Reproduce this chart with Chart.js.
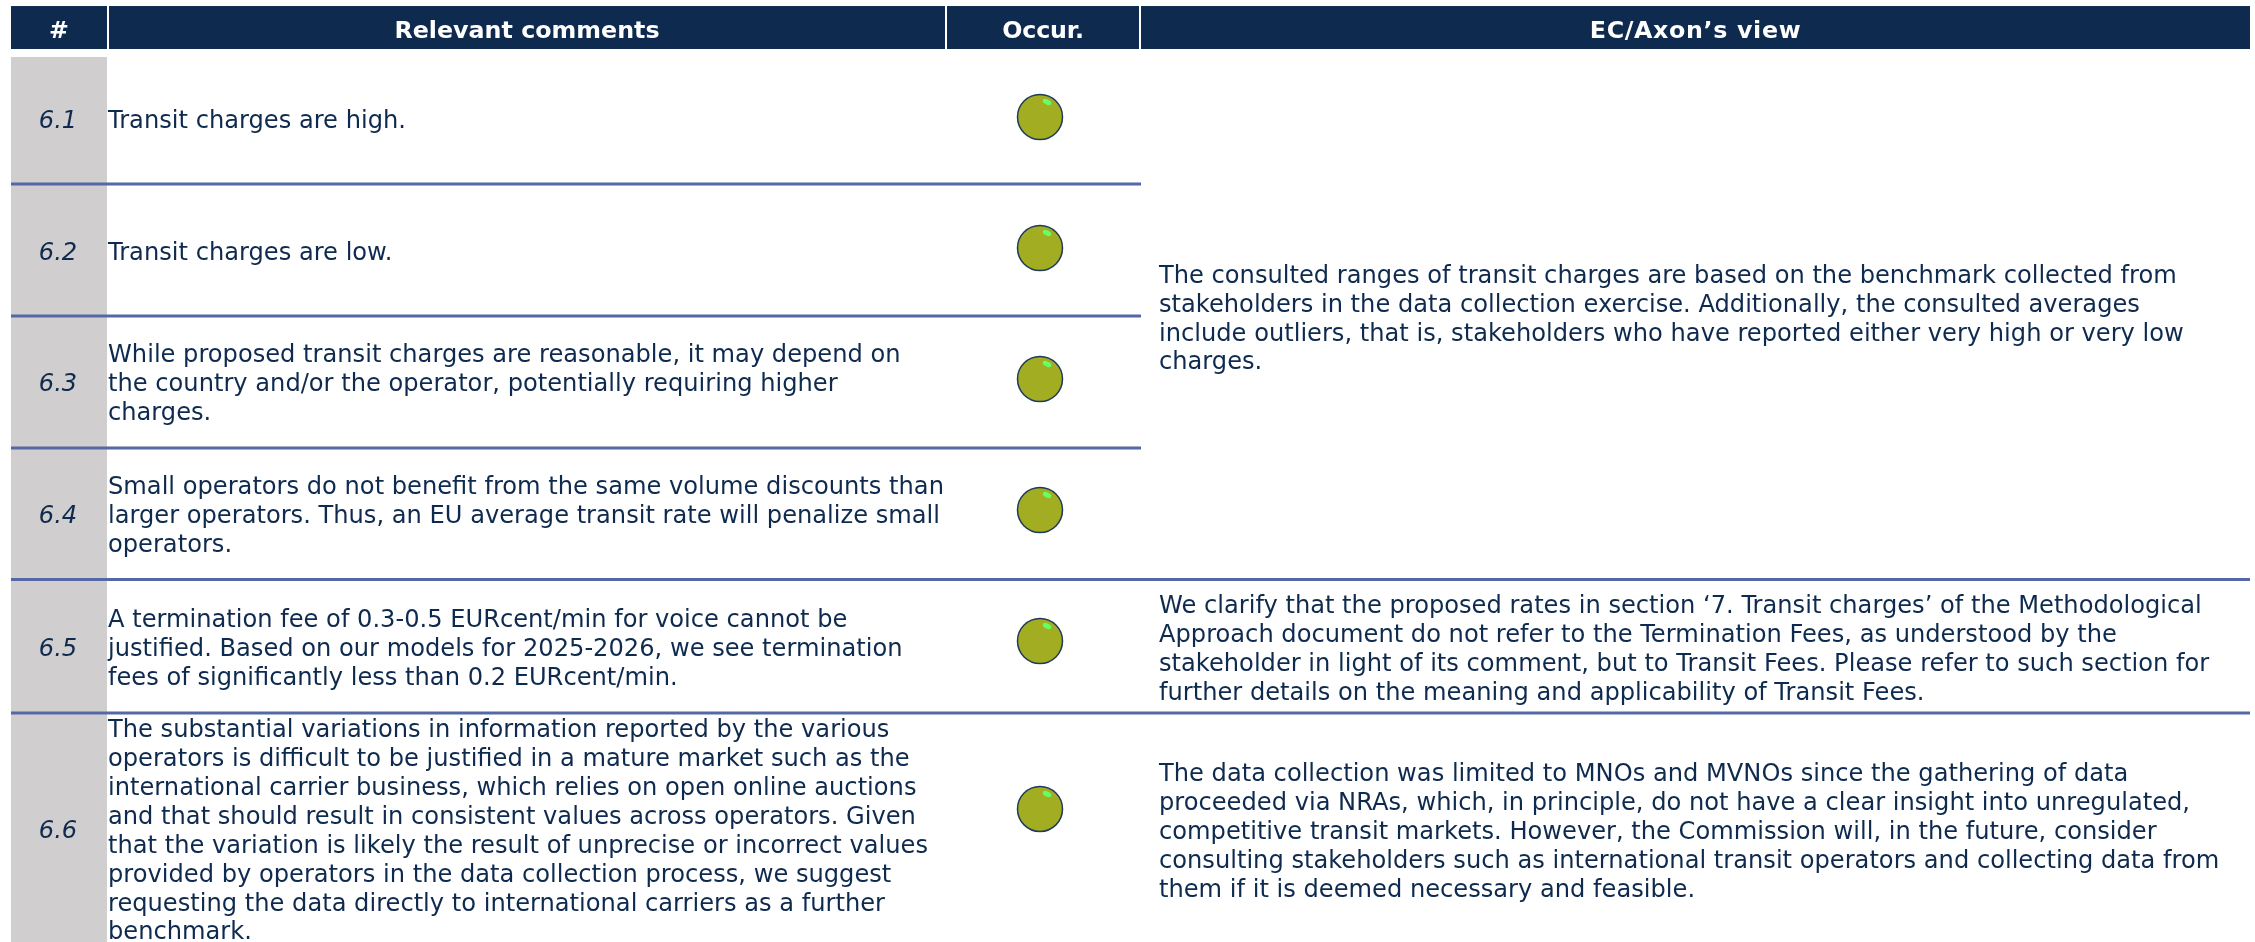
<!DOCTYPE html>
<html>
<head>
<meta charset="utf-8">
<style>
  html, body { margin: 0; padding: 0; background: #fff; }
  canvas { display: block; }
</style>
<script src="https://cdn.jsdelivr.net/npm/chart.js@4/dist/chart.umd.min.js"></script>
</head>
<body>
<canvas id="table-chart" width="2255" height="942"></canvas>
<script>
// table content
const headers = ['#', 'Relevant comments', 'Occur.', 'EC/Axon’s view'];
const rowIds = ['6.1', '6.2', '6.3', '6.4', '6.5', '6.6'];
const comments = [
  ['Transit charges are high.'],
  ['Transit charges are low.'],
  ['While proposed transit charges are reasonable, it may depend on',
   'the country and/or the operator, potentially requiring higher',
   'charges.'],
  ['Small operators do not benefit from the same volume discounts than',
   'larger operators. Thus, an EU average transit rate will penalize small',
   'operators.'],
  ['A termination fee of 0.3-0.5 EURcent/min for voice cannot be',
   'justified. Based on our models for 2025-2026, we see termination',
   'fees of significantly less than 0.2 EURcent/min.'],
  ['The substantial variations in information reported by the various',
   'operators is difficult to be justified in a mature market such as the',
   'international carrier business, which relies on open online auctions',
   'and that should result in consistent values across operators. Given',
   'that the variation is likely the result of unprecise or incorrect values',
   'provided by operators in the data collection process, we suggest',
   'requesting the data directly to international carriers as a further',
   'benchmark.']
];
const views = [
  ['The consulted ranges of transit charges are based on the benchmark collected from',
   'stakeholders in the data collection exercise. Additionally, the consulted averages',
   'include outliers, that is, stakeholders who have reported either very high or very low',
   'charges.'],
  ['We clarify that the proposed rates in section ‘7. Transit charges’ of the Methodological',
   'Approach document do not refer to the Termination Fees, as understood by the',
   'stakeholder in light of its comment, but to Transit Fees. Please refer to such section for',
   'further details on the meaning and applicability of Transit Fees.'],
  ['The data collection was limited to MNOs and MVNOs since the gathering of data',
   'proceeded via NRAs, which, in principle, do not have a clear insight into unregulated,',
   'competitive transit markets. However, the Commission will, in the future, consider',
   'consulting stakeholders such as international transit operators and collecting data from',
   'them if it is deemed necessary and feasible.']
];

// where things sit on the y axis, in row units
const markerRows = [1, 2, 3, 4, 5, 6.282];
const textRows = [1.038, 2.046, 3.046, 4.05, 5.068, 6.458];
const viewRows = [2.548, 5.073, 6.462];
const shortRules = [1.511, 2.519, 3.527];
const longRules = [4.53, 5.55];

// column edges on the x axis
const colStart = [11, 109, 947, 1141];
const colEnd = [107, 945, 1139, 2250];
const markerX = 1040;
const textFont = '24.15px "DejaVu Sans"';
const headerSpacing = ['0px', '0px', '-0.2px', '0.65px'];
const navy = '#0E2A4E';

const ruleSet = (row, from, to) => ({
  type: 'line',
  data: [{ x: from, y: row }, { x: to, y: row }],
  borderColor: '#5568A6',
  borderWidth: 3,
  pointRadius: 0
});

const tablePlugin = {
  id: 'tablePlugin',
  beforeDatasetsDraw(chart) {
    const { ctx, scales: { x, y } } = chart;
    ctx.save();
    // header cells
    ctx.fillStyle = navy;
    colStart.forEach((start, i) => {
      const left = x.getPixelForValue(start);
      ctx.fillRect(left, y.getPixelForValue(0.153), x.getPixelForValue(colEnd[i]) - left,
        y.getPixelForValue(0.481) - y.getPixelForValue(0.153));
    });
    // grey id column
    ctx.fillStyle = '#D0CECE';
    ctx.fillRect(x.getPixelForValue(colStart[0]), y.getPixelForValue(0.542),
      x.getPixelForValue(colEnd[0]) - x.getPixelForValue(colStart[0]), chart.height);
    ctx.restore();
  },
  afterDatasetsDraw(chart) {
    const { ctx, scales: { x, y } } = chart;
    const drawBlock = (lines, row, left) => {
      const mid = y.getPixelForValue(row);
      lines.forEach((line, i) => {
        ctx.fillText(line, left, mid + (i - (lines.length - 1) / 2) * 28.9);
      });
    };
    ctx.save();
    ctx.textBaseline = 'middle';

    ctx.fillStyle = '#fff';
    ctx.font = 'bold 23.75px "DejaVu Sans"';
    ctx.textAlign = 'center';
    headers.forEach((h, i) => {
      ctx.letterSpacing = headerSpacing[i];
      ctx.fillText(h, (x.getPixelForValue(colStart[i]) + x.getPixelForValue(colEnd[i])) / 2, y.getPixelForValue(0.348));
    });
    ctx.letterSpacing = '0px';

    ctx.fillStyle = navy;
    ctx.font = 'italic ' + textFont;
    rowIds.forEach((id, i) => {
      ctx.fillText(id, x.getPixelForValue(58), y.getPixelForValue(textRows[i]));
    });

    ctx.textAlign = 'left';
    ctx.font = textFont;
    comments.forEach((lines, i) => drawBlock(lines, textRows[i], x.getPixelForValue(108)));
    views.forEach((lines, i) => drawBlock(lines, viewRows[i], x.getPixelForValue(1159)));

    // small shine on each ball
    ctx.fillStyle = '#66FF66';
    chart.getDatasetMeta(0).data.forEach(el => {
      ctx.beginPath();
      ctx.ellipse(el.x + 7, el.y - 15, 4.5, 2.5, 0.45, 0, Math.PI * 2);
      ctx.fill();
    });
    ctx.restore();
  }
};

new Chart(document.getElementById('table-chart'), {
  type: 'scatter',
  data: {
    datasets: [
      {
        data: markerRows.map(row => ({ x: markerX, y: row })),
        backgroundColor: '#A2AD22',
        borderColor: '#1F3A5A',
        borderWidth: 1.5,
        pointRadius: 22.5
      },
      ...shortRules.map(row => ruleSet(row, colStart[0], colStart[3])),
      ...longRules.map(row => ruleSet(row, colStart[0], colEnd[3]))
    ]
  },
  plugins: [tablePlugin],
  options: {
    responsive: false,
    animation: false,
    layout: { padding: 0, autoPadding: false },
    plugins: { legend: { display: false }, tooltip: { enabled: false } },
    scales: {
      x: { type: 'linear', display: false, min: 0, max: 2255 },
      y: { type: 'linear', display: false, reverse: true, min: 0.1069, max: 7.2977 }
    }
  }
});
</script>
</body>
</html>
